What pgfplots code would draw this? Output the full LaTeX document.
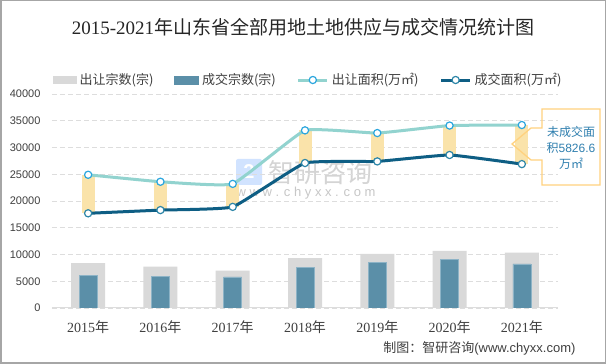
\documentclass[border=0pt]{standalone}
\usepackage{pgfplots}
\usepackage{pgfplotstable}
\pgfplotsset{compat=1.18}
\usepackage{fontspec}
\setmainfont{Liberation Sans}
\newfontfamily\cjk{Noto Sans CJK SC}
\newfontfamily\serif{Liberation Serif}
\definecolor{graybar}{HTML}{D9D9D9}
\definecolor{bluebar}{HTML}{5B8FA8}
\definecolor{bluebaredge}{HTML}{8DB3C6}
\definecolor{supline}{HTML}{92D3CF}
\definecolor{supmark}{HTML}{2BA6DE}
\definecolor{dealline}{HTML}{0E5E84}
\definecolor{dealmark}{HTML}{2E86A8}
\definecolor{band}{HTML}{FAE3AA}
\definecolor{gridc}{HTML}{DDDDDD}
\definecolor{framec}{HTML}{A6A6A6}
\definecolor{callc}{HTML}{FFD27F}
\definecolor{calltext}{HTML}{2F7FAF}
\definecolor{txt}{HTML}{404040}
\newcommand{\yr}[1]{{\serif #1}{\cjk 年}}

\pgfplotstableread{
x sup deal gray blue
0 24900 17700 8370 6050
1 23600 18300 7730 5930
2 23200 18900 7000 5800
3 33200 27100 9300 7550
4 32700 27400 10100 8550
5 34100 28600 10700 9110
6 34200 26900 10350 8230
}\datatable

\begin{document}
\begin{tikzpicture}[x=1pt,y=1pt]
\useasboundingbox (0,0) rectangle (606,364);
\fill[white] (0,0) rectangle (606,364);
% title
\node[font=\fontsize{19}{23}\selectfont, text=black!85] at (303,337) {{\serif 2015-2021}{\cjk 年山东省全部用地土地供应与成交情况统计图}};
% watermark
\fill[blue!60!cyan!18, rounded corners=2pt] (236,179) rectangle (262,205);
\node[font=\fontsize{20}{20}\selectfont\bfseries, text=white] at (249,192) {2};
\node[font=\fontsize{26}{30}\selectfont\cjk, text=black!17, anchor=west] at (265,191) {智研咨询};
\node[font=\fontsize{13}{15}\selectfont, text=black!22] at (306,171) {w w w . c h y x x . c o m};
\begin{axis}[
  at={(52pt,56pt)}, anchor=south west,
  scale only axis, width=506pt, height=214pt,
  xmin=-0.5, xmax=6.5, ymin=0, ymax=40000,
  xtick={0,...,6},
  xticklabels={\yr{2015},\yr{2016},\yr{2017},\yr{2018},\yr{2019},\yr{2020},\yr{2021}},
  ytick={0,5000,...,40000},
  scaled y ticks=false,
  /pgf/number format/1000 sep={},
  /pgf/number format/assume math mode=true,
  major tick length=0pt,
  axis x line*=bottom, axis y line*=left,
  x axis line style={draw=gridc, line width=1pt},
  y axis line style={draw=none},
  ymajorgrids,
  grid style={draw=gridc, dash pattern=on 5pt off 3pt, line width=0.8pt},
  xticklabel style={font=\fontsize{14}{16}\selectfont, text=txt, yshift=-9pt},
  yticklabel style={font=\fontsize{11}{13}\selectfont, text=txt, xshift=-8pt},
  legend columns=4,
  legend style={at={(0.507,1.0654)}, anchor=center, draw=none, fill=none,
    font=\fontsize{13}{15}\selectfont\cjk, text=txt,
    /tikz/every even column/.append style={column sep=18pt},
    nodes={inner xsep=3pt}},
]
\addplot[ybar, bar width=34pt, bar shift=0pt, fill=graybar, draw=none,
  legend image code/.code={\fill[graybar] (0pt,-4pt) rectangle (24pt,4pt);}]
  table[x=x, y=gray] {\datatable};
\addlegendentry{出让宗数(宗)}
\addplot[ybar, bar width=18pt, bar shift=0pt, fill=bluebar, draw=bluebaredge, line width=0.6pt,
  legend image code/.code={\fill[bluebar] (0pt,-4pt) rectangle (24pt,4pt);}]
  table[x=x, y=blue] {\datatable};
\addlegendentry{成交宗数(宗)}
\addplot[only marks, mark=none, forget plot,
  error bars/.cd, y dir=minus, y explicit,
  error bar style={draw=band, line width=13pt}, error mark=none]
  table[x=x, y=sup, y error expr=\thisrow{sup}-\thisrow{deal}] {\datatable};
\addplot[supline, line width=3pt, smooth, tension=0.2, mark=*, mark size=3.6pt,
  mark options={fill=white, draw=supmark, line width=1.2pt},
  legend image code/.code={\draw[supline, line width=3pt] (0pt,0pt) -- (29pt,0pt);
    \draw[fill=white, draw=supmark, line width=1.2pt] (14.5pt,0pt) circle (3.6pt);}]
  table[x=x, y=sup] {\datatable};
\addlegendentry{出让面积(万㎡)}
\addplot[dealline, line width=3pt, smooth, tension=0.2, mark=*, mark size=3.6pt,
  mark options={fill=white, draw=dealmark, line width=1.2pt},
  legend image code/.code={\draw[dealline, line width=3pt] (0pt,0pt) -- (29pt,0pt);
    \draw[fill=white, draw=dealmark, line width=1.2pt] (14.5pt,0pt) circle (3.6pt);}]
  table[x=x, y=deal] {\datatable};
\addlegendentry{成交面积(万㎡)}
\end{axis}
% callout
\draw[callc, line width=1.3pt, line join=miter]
  (542,236) -- (542,255) -- (600,255) -- (600,179) -- (542,179) -- (542,204)
  -- (531,204) -- (512,220) -- (531,236) -- cycle;
\node[align=center, text=calltext, font=\fontsize{12}{16.3}\selectfont] at (571,216)
  {{\cjk 未成交面}\\{\cjk 积}5826.6\\{\cjk 万㎡}};
% footer
\node[anchor=east, font=\fontsize{13}{15}\selectfont, text=txt] at (579,15.5) {{\cjk 制图：智研咨询}(www.chyxx.com)};
% frame
\draw[framec, line width=1.5pt] (0.75,0.75) rectangle (605.25,363.25);
\end{tikzpicture}
\end{document}
